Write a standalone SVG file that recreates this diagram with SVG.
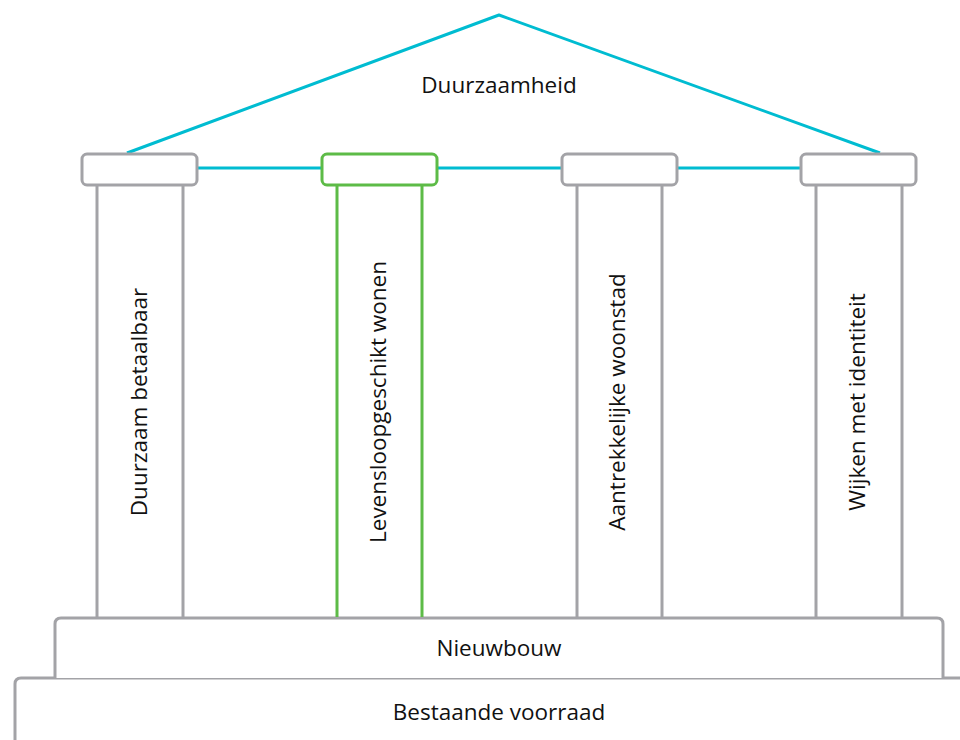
<svg xmlns="http://www.w3.org/2000/svg" width="960" height="740" viewBox="0 0 960 740">
<style>
.g{fill:none;stroke:#A3A3A7;stroke-width:3;stroke-linejoin:round}
.gf{fill:#fff;stroke:#A3A3A7;stroke-width:3;stroke-linejoin:round}
.gr{fill:none;stroke:#5DBB47;stroke-width:3}
.grf{fill:#fff;stroke:#5DBB47;stroke-width:3}
.c{fill:none;stroke:#00BCD1;stroke-width:3;stroke-linejoin:round}
text{font-family:"Open Sans","Noto Sans","Liberation Sans",sans-serif;font-size:22.5px;fill:#111;text-anchor:middle}
</style>
<rect width="960" height="740" fill="#fff"/>
<g id="connectors">
<polyline class="c" points="127,153 499,15 880,153"/>
<line class="c" x1="196" y1="168" x2="802" y2="168"/>
</g>
<g id="bestaande">
<path class="gf" d="M15,742 V684 Q15,678 21,678 H962"/>
<text x="499" y="720">Bestaande voorraad</text>
</g>
<g id="nieuwbouw">
<path class="gf" d="M55,678 V624 Q55,618 61,618 H937 Q943,618 943,624 V678"/>
<text x="499" y="656">Nieuwbouw</text>
</g>
<g id="duurzaamheid">
<text x="499" y="93">Duurzaamheid</text>
</g>
<g id="p1">
<line class="g" x1="97" y1="185" x2="97" y2="618"/>
<line class="g" x1="183" y1="185" x2="183" y2="618"/>
<rect class="gf" x="82" y="154" width="115" height="31" rx="5"/>
<text transform="translate(147,402) rotate(-90)">Duurzaam betaalbaar</text>
</g>
<g id="p2">
<line class="gr" x1="337" y1="185" x2="337" y2="617"/>
<line class="gr" x1="422" y1="185" x2="422" y2="617"/>
<rect class="grf" x="322" y="154" width="115" height="31" rx="5"/>
<text transform="translate(386,402) rotate(-90)">Levensloopgeschikt wonen</text>
</g>
<g id="p3">
<line class="g" x1="577" y1="185" x2="577" y2="618"/>
<line class="g" x1="662" y1="185" x2="662" y2="618"/>
<rect class="gf" x="562" y="154" width="115" height="31" rx="5"/>
<text transform="translate(625,402) rotate(-90)">Aantrekkelijke woonstad</text>
</g>
<g id="p4">
<line class="g" x1="816" y1="185" x2="816" y2="618"/>
<line class="g" x1="902" y1="185" x2="902" y2="618"/>
<rect class="gf" x="801" y="154" width="115" height="31" rx="5"/>
<text transform="translate(865,402) rotate(-90)">Wijken met identiteit</text>
</g>
</svg>
